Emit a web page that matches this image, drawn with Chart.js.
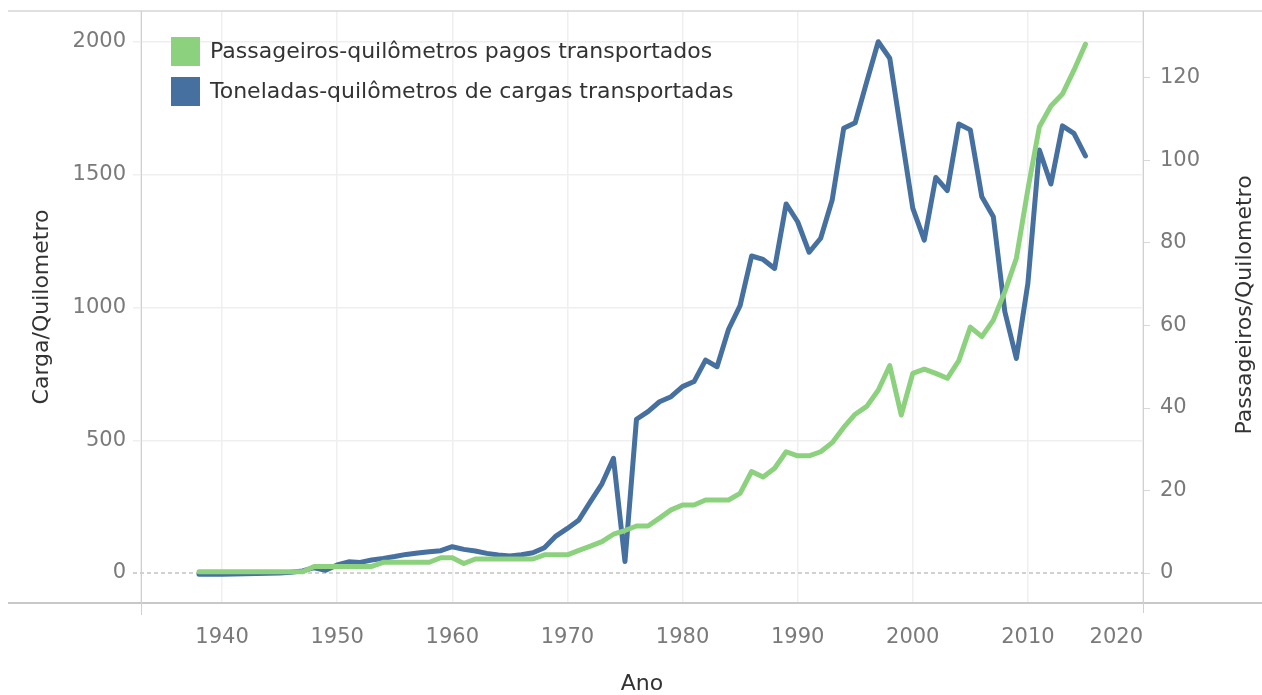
<!DOCTYPE html>
<html><head><meta charset="utf-8">
<script src="https://cdn.jsdelivr.net/npm/chart.js@4.4.1/dist/chart.umd.min.js"></script>
<style>html,body{margin:0;padding:0;background:#fff;}#wrap{width:1262px;height:695px;position:relative;}</style>
</head><body><div id="wrap"><canvas id="c" width="1262" height="695"></canvas></div>
<script>
// ---- data ----
const years = [1938,1939,1940,1941,1942,1943,1944,1945,1946,1947,
  1948,1949,1950,1951,1952,1953,1954,1955,1956,1957,
  1958,1959,1960,1961,1962,1963,1964,1965,1966,1967,
  1968,1969,1970,1971,1972,1973,1974,1975,1976,1977,
  1978,1979,1980,1981,1982,1983,1984,1985,1986,1987,
  1988,1989,1990,1991,1992,1993,1994,1995,1996,1997,
  1998,1999,2000,2001,2002,2003,2004,2005,2006,2007,
  2008,2009,2010,2011,2012,2013,2014,2015];
const carga = [-5,-5,-5,-4,-3,-2,-1,0,3,8,
  20,10,30,42,40,49,55,62,70,75,
  80,84,99,89,83,74,68,64,69,76,
  95,139,168,200,269,336,432,43,579,608,
  645,664,702,721,802,777,918,1007,1194,1181,
  1147,1390,1323,1208,1261,1405,1675,1696,1850,2001,
  1939,1656,1374,1254,1490,1440,1691,1669,1417,1342,
  984,808,1091,1593,1465,1684,1656,1571];
const passageiros = [0.3,0.3,0.3,0.3,0.3,0.3,0.3,0.3,0.3,0.3,
  1.6,1.6,1.6,1.6,1.6,1.6,2.6,2.6,2.6,2.6,
  2.6,3.7,3.7,2.3,3.4,3.4,3.4,3.4,3.4,3.4,
  4.4,4.4,4.4,5.5,6.5,7.6,9.4,10.3,11.4,11.4,
  13.3,15.3,16.5,16.5,17.7,17.7,17.7,19.3,24.6,23.3,
  25.4,29.4,28.4,28.4,29.4,31.6,35.3,38.5,40.4,44.3,
  50.3,38.3,48.4,49.4,48.4,47.2,51.5,59.6,57.3,61.3,
  68.2,76.3,93,108.2,113.2,116.1,121.9,128.2];
const xTicks = [1940,1950,1960,1970,1980,1990,2000,2010,2020];
const cargaTicks = [0,500,1000,1500,2000];
const passTicks = [0,20,40,60,80,100,120];
const seriesNames = ['Passageiros-quilômetros pagos transportados','Toneladas-quilômetros de cargas transportadas'];
const seriesColors = ['#8cd17d','#46709f'];
const titleX = 'Ano', titleLeft = 'Carga/Quilometro', titleRight = 'Passageiros/Quilometro';

// ---- chart ----
Chart.defaults.font.family = "'DejaVu Sans', sans-serif";
const xMin = 1932.96, xMax = 2020;
const tickColor = '#7a7a7a';

function noPad(s) { s.paddingTop = 0; s.paddingBottom = 0; s.paddingLeft = 0; s.paddingRight = 0; }

const decor = {
  id: 'decor',
  beforeDatasetsDraw(chart) {
    const {ctx, chartArea: a, scales} = chart;
    const y0 = scales.y.getPixelForValue(0);
    ctx.save();
    ctx.strokeStyle = '#c2c2c2'; ctx.lineWidth = 1.5; ctx.setLineDash([4, 3]);
    ctx.beginPath(); ctx.moveTo(a.left - 8, y0); ctx.lineTo(a.right, y0); ctx.stroke();
    ctx.restore();
  },
  afterDraw(chart) {
    const {ctx, chartArea: a} = chart;
    ctx.save();
    // frame
    ctx.strokeStyle = '#d6d6d6'; ctx.lineWidth = 1.5;
    ctx.beginPath(); ctx.moveTo(8, a.top); ctx.lineTo(chart.width, a.top); ctx.stroke();
    ctx.strokeStyle = '#c8c8c8'; ctx.lineWidth = 2;
    ctx.beginPath(); ctx.moveTo(8, a.bottom); ctx.lineTo(chart.width, a.bottom); ctx.stroke();
    ctx.strokeStyle = '#d0d0d0'; ctx.lineWidth = 1;
    ctx.beginPath(); ctx.moveTo(a.left + 0.5, a.top); ctx.lineTo(a.left + 0.5, a.bottom + 12); ctx.stroke();
    ctx.beginPath(); ctx.moveTo(a.right + 0.5, a.top); ctx.lineTo(a.right + 0.5, a.bottom + 10); ctx.stroke();
    // legend
    ctx.font = "22px 'DejaVu Sans', sans-serif";
    ctx.textBaseline = 'middle'; ctx.textAlign = 'left';
    seriesNames.forEach((n, i) => {
      const y = a.top + 26 + i * 40;
      ctx.fillStyle = seriesColors[i];
      ctx.fillRect(a.left + 30, y, 29, 29);
      ctx.fillStyle = '#333333';
      ctx.fillText(n, a.left + 69, y + 15);
    });
    // right axis title (reads bottom to top)
    ctx.translate(chart.width - 17, (a.top + a.bottom) / 2 - 2);
    ctx.rotate(-Math.PI / 2);
    ctx.textAlign = 'center';
    ctx.fillStyle = '#333333';
    ctx.fillText(titleRight, 0, 0);
    ctx.restore();
  }
};

new Chart(document.getElementById('c'), {
  type: 'line',
  data: {
    datasets: [
      { label: seriesNames[0], yAxisID: 'y1', data: years.map((yr, i) => ({x: yr, y: passageiros[i]})),
        borderColor: seriesColors[0], backgroundColor: seriesColors[0], borderWidth: 5,
        pointRadius: 0, tension: 0, borderJoinStyle: 'round', borderCapStyle: 'round', order: 0 },
      { label: seriesNames[1], yAxisID: 'y', data: years.map((yr, i) => ({x: yr, y: carga[i]})),
        borderColor: seriesColors[1], backgroundColor: seriesColors[1], borderWidth: 5,
        pointRadius: 0, tension: 0, borderJoinStyle: 'round', borderCapStyle: 'round', order: 1 }
    ]
  },
  options: {
    responsive: false, animation: false, devicePixelRatio: 1,
    layout: {padding: {top: 11, left: 0, right: 0, bottom: 0}},
    plugins: {legend: {display: false}, tooltip: {enabled: false}},
    scales: {
      x: {
        type: 'linear', position: 'bottom', min: xMin, max: xMax,
        afterBuildTicks(s) { s.ticks = [xMin].concat(xTicks).map(v => ({value: v})); },
        afterFit(s) { s.height = 92; noPad(s); },
        ticks: {align: 'inner', padding: 22, color: tickColor, font: {size: 21}, maxRotation: 0, autoSkip: false,
          callback: v => xTicks.includes(v) ? String(v) : ''},
        grid: {color: '#efefef', lineWidth: 1.5, drawTicks: false},
        border: {display: false},
        title: {display: true, text: titleX, color: '#333333', font: {size: 22}, padding: {top: 0, bottom: -2}}
      },
      y: {
        position: 'left', min: -113, max: 2116.8,
        afterBuildTicks(s) { s.ticks = cargaTicks.map(v => ({value: v})); },
        afterFit(s) { s.width = 141; noPad(s); },
        ticks: {padding: 7, color: tickColor, font: {size: 21}, callback: v => String(v)},
        grid: {color: c => (c.tick && c.tick.value === 0) ? 'rgba(0,0,0,0)' : '#efefef', lineWidth: 1.5, tickLength: 8},
        border: {display: false},
        title: {display: true, text: titleLeft, color: '#333333', font: {size: 22}, padding: {top: 29, bottom: 0}}
      },
      y1: {
        position: 'right', min: -7.27, max: 136.24,
        afterBuildTicks(s) { s.ticks = passTicks.map(v => ({value: v})); },
        afterFit(s) { s.width = 119; noPad(s); },
        ticks: {padding: 10, color: tickColor, font: {size: 21}, callback: v => String(v)},
        grid: {drawOnChartArea: false, tickLength: 7, color: '#d8d8d8', lineWidth: 1},
        border: {display: false},
        title: {display: false}
      }
    }
  },
  plugins: [decor]
});
</script></body></html>
